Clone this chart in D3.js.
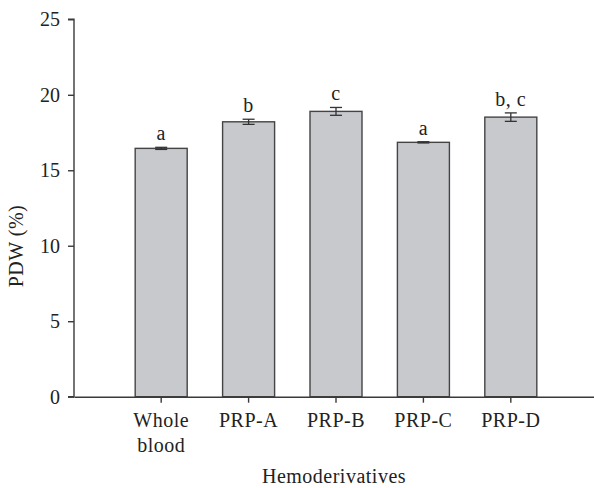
<!DOCTYPE html>
<html><head><meta charset="utf-8">
<script src="https://cdn.jsdelivr.net/npm/d3@7"></script>
<style>body{margin:0;background:#fff}</style>
</head><body>
<svg id="c" width="594" height="488"></svg>
<script>
const categories = ["Whole blood","PRP-A","PRP-B","PRP-C","PRP-D"];
const values = [16.45, 18.21, 18.9, 16.85, 18.52];
const errors = [0.07, 0.17, 0.26, 0.04, 0.28];
const letters = ["a","b","c","a","b, c"];
const yTicks = [0,5,10,15,20,25];

const svg = d3.select("#c");
const font = "'Liberation Serif', 'DejaVu Serif', serif";
const fs = 20, ls = 0.5;
const x0 = 74, x1 = 598, yb = 396.7, yt = 19.3;
const x = d3.scaleBand().domain(categories).range([x0, x1]).paddingInner(0.405).paddingOuter(0.70);
const y = d3.scaleLinear().domain([0,25]).range([yb, yt]);
const ink = "#3a3a3a";

// bars
svg.append("g").selectAll("rect").data(categories).join("rect")
  .attr("x", d => x(d)).attr("width", x.bandwidth())
  .attr("y", (d,i) => y(values[i])).attr("height", (d,i) => y(0) - y(values[i]))
  .attr("fill", "#c7c9cc").attr("stroke", "#444").attr("stroke-width", 1.4);

// error bars
const eg = svg.append("g").attr("stroke", "#333").attr("stroke-width", 1.3);
categories.forEach((c,i) => {
  const cx = x(c) + x.bandwidth()/2;
  const lo = y(values[i]-errors[i]), hi = y(values[i]+errors[i]);
  eg.append("line").attr("x1", cx).attr("x2", cx).attr("y1", lo).attr("y2", hi);
  eg.append("line").attr("x1", cx-6).attr("x2", cx+6).attr("y1", lo).attr("y2", lo);
  eg.append("line").attr("x1", cx-6).attr("x2", cx+6).attr("y1", hi).attr("y2", hi);
  svg.append("text").attr("x", cx).attr("y", hi - 7).attr("text-anchor","middle")
    .attr("font-family", font).attr("font-size", fs).attr("letter-spacing", ls).attr("fill", "#222").text(letters[i]);
});

// y axis
const ya = svg.append("g").attr("transform", `translate(${x0},0)`)
  .call(d3.axisLeft(y).tickValues(yTicks).tickSize(6).tickPadding(8).tickFormat(d3.format("d")));
ya.select(".domain").attr("stroke", ink).attr("stroke-width", 1.4).attr("d", `M-6,${yt}H0V${yb}H-6`);
ya.selectAll(".tick line").attr("stroke", ink).attr("stroke-width", 1.4);
ya.selectAll(".tick text").attr("font-family", font).attr("font-size", fs).attr("fill", "#222");

// x axis
const xa = svg.append("g").attr("transform", `translate(0,${yb})`)
  .call(d3.axisBottom(x).tickSize(6).tickSizeOuter(0).tickPadding(8));
xa.select(".domain").attr("stroke", ink).attr("stroke-width", 1.4);
xa.selectAll(".tick line").attr("stroke", ink).attr("stroke-width", 1.4);
xa.selectAll(".tick text").remove();
xa.selectAll(".tick").each(function(d){
  const t = d3.select(this).append("text").attr("fill","#222").attr("font-family", font)
    .attr("font-size", fs).attr("letter-spacing", ls).attr("text-anchor","middle").attr("y", 30);
  const parts = d.split(" ");
  parts.forEach((p,k) => t.append("tspan").attr("x",0).attr("dy", k===0 ? 0 : 25).text(p));
});

// titles
svg.append("text").attr("x", 334).attr("y", 483).attr("text-anchor","middle")
  .attr("font-family", font).attr("font-size", fs).attr("letter-spacing", ls).attr("fill","#222").text("Hemoderivatives");
svg.append("text").attr("transform", "translate(23,246) rotate(-90)").attr("text-anchor","middle")
  .attr("font-family", font).attr("font-size", fs).attr("letter-spacing", ls).attr("fill","#222").text("PDW (%)");
</script>
</body></html>
